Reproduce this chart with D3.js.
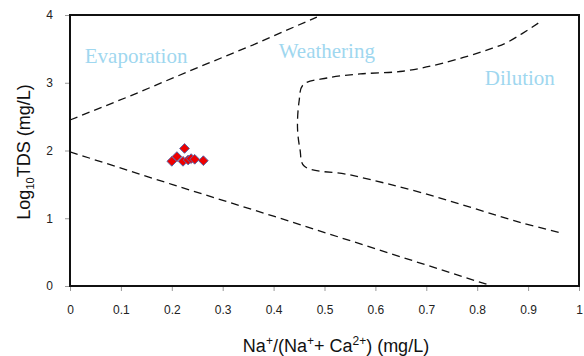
<!DOCTYPE html>
<html><head><meta charset="utf-8">
<script src="https://cdn.jsdelivr.net/npm/d3@7"></script>
<style>body{margin:0;background:#fff}svg{display:block}</style>
</head><body>
<svg id="c" width="584" height="356"></svg>
<script>
const xTicks = [0,0.1,0.2,0.3,0.4,0.5,0.6,0.7,0.8,0.9,1];
const xTickLabels = ["0","0.1","0.2","0.3","0.4","0.5","0.6","0.7","0.8","0.9","1"];
const yTicks = [0,1,2,3,4];
const yTickLabels = ["0","1","2","3","4"];
// samples
const sampleX = [0.200,0.210,0.225,0.222,0.232,0.238,0.245,0.262];
const sampleY = [1.84,1.91,2.03,1.84,1.86,1.88,1.87,1.85];
// boundary lines
const upperLineX = [0,0.12,0.24,0.36,0.485];
const upperLineY = [2.45,2.81,3.19,3.56,3.97];
const lowerLineX = [0,0.2,0.4,0.6,0.829];
const lowerLineY = [1.98,1.50,1.03,0.55,0];
const curveX = [0.92,0.86,0.83,0.733,0.654,0.57,0.505,0.458,0.450,0.447,0.452,0.460,0.55,0.694,0.884,0.967];
const curveY = [3.88,3.60,3.51,3.29,3.17,3.13,3.07,2.97,2.72,2.33,2.01,1.77,1.64,1.37,0.94,0.78];
const regionLabels = ["Evaporation","Weathering","Dilution"];
const regionX = [0.029,0.41,0.815];
const regionY = [3.29,3.37,2.96];

const svg = d3.select("#c");
const x = d3.scaleLinear().domain([0,1]).range([70,579]);
const y = d3.scaleLinear().domain([0,4]).range([286,15]);

// axes ticks
const xAxis = d3.axisBottom(x).tickValues(xTicks).tickFormat((d,i)=>xTickLabels[i]).tickSize(5).tickPadding(14);
const yAxis = d3.axisLeft(y).tickValues(yTicks).tickFormat((d,i)=>yTickLabels[i]).tickSize(5).tickPadding(12);
const gx = svg.append("g").attr("transform","translate(0,286)").call(xAxis);
const gy = svg.append("g").attr("transform","translate(70,0)").call(yAxis);
[gx,gy].forEach(g=>{
  g.select(".domain").remove();
  g.selectAll(".tick line").attr("stroke","#999");
  g.selectAll(".tick text").attr("font-family","Liberation Sans, Arial, sans-serif").attr("font-size",12).attr("fill","#222");
});

// frame
svg.append("rect").attr("x",70).attr("y",15).attr("width",509).attr("height",271)
  .attr("fill","none").attr("stroke","#111").attr("stroke-width",2);

const line = d3.line().x(d=>x(d[0])).y(d=>y(d[1]));
const lineC = d3.line().x(d=>x(d[0])).y(d=>y(d[1])).curve(d3.curveCatmullRom.alpha(0.5));
function drawDash(xs,ys,gen){
  svg.append("path").attr("d",gen(xs.map((v,i)=>[v,ys[i]])))
    .attr("fill","none").attr("stroke","#111").attr("stroke-width",1.3)
    .attr("stroke-dasharray","8,5");
}
drawDash(upperLineX,upperLineY,line);
drawDash(lowerLineX,lowerLineY,line);
drawDash(curveX,curveY,lineC);

// region labels
svg.append("g").selectAll("text").data(regionLabels).join("text")
  .attr("x",(d,i)=>x(regionX[i])).attr("y",(d,i)=>y(regionY[i]))
  .attr("font-family","Liberation Serif, Times New Roman, serif").attr("font-size",21)
  .attr("fill","#9fd7ef").text(d=>d);

// points
const sym = d3.symbol().type(d3.symbolDiamond2).size(60);
svg.append("g").selectAll("path").data(sampleX).join("path")
  .attr("d",sym)
  .attr("transform",(d,i)=>`translate(${x(d)},${y(sampleY[i])})`)
  .attr("fill","#ee0000").attr("stroke","#5566aa").attr("stroke-width",1);

// axis titles
const xt = svg.append("text").attr("x",336).attr("y",352).attr("text-anchor","middle")
  .attr("font-family","Liberation Sans, Arial, sans-serif").attr("font-size",18).attr("fill","#111");
xt.append("tspan").text("Na");
xt.append("tspan").attr("dy",-7).attr("font-size",12).text("+");
xt.append("tspan").attr("dy",7).text("/(Na");
xt.append("tspan").attr("dy",-7).attr("font-size",12).text("+");
xt.append("tspan").attr("dy",7).text("+ Ca");
xt.append("tspan").attr("dy",-7).attr("font-size",12).text("2+");
xt.append("tspan").attr("dy",7).text(") (mg/L)");

const yt = svg.append("text").attr("transform","translate(30,152) rotate(-90)").attr("text-anchor","middle")
  .attr("font-family","Liberation Sans, Arial, sans-serif").attr("font-size",18).attr("fill","#111");
yt.append("tspan").text("Log");
yt.append("tspan").attr("dy",4).attr("font-size",11).text("10");
yt.append("tspan").attr("dy",-4).text("TDS (mg/L)");
</script>
</body></html>
